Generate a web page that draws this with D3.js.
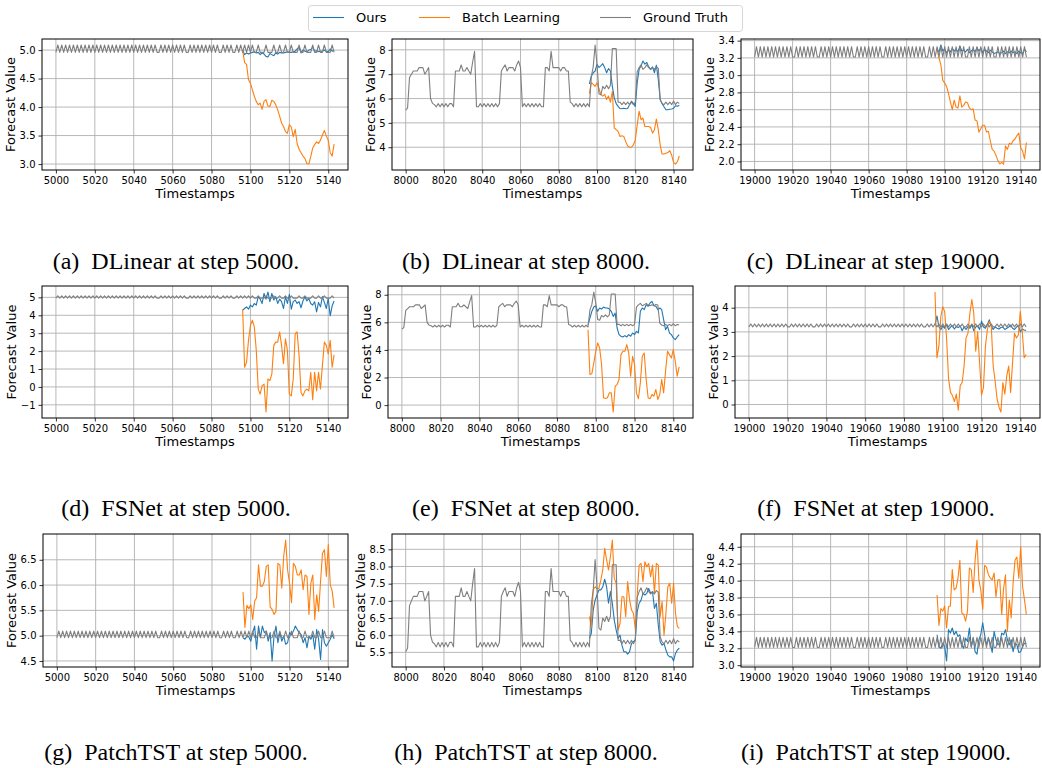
<!DOCTYPE html>
<html>
<head>
<meta charset="utf-8">
<script src="https://cdn.jsdelivr.net/npm/d3@7"></script>
<style>
  body { margin: 0; background: #fff; }
  svg text { font-family: "DejaVu Sans", sans-serif; }
  .caption { font-family: "Liberation Serif", "Times New Roman", serif !important; white-space: pre; }
</style>
</head>
<body>
<svg id="fig" width="1042" height="768"></svg>
<script>
// ground truth, 144 steps each
const truth5000 = [
  4.96,5.09,4.96,5.09,4.96,5.09,4.96,5.09,4.96,5.09,4.96,5.09,
  4.96,5.09,4.96,5.09,4.96,5.09,4.96,5.09,4.96,5.09,4.96,5.09,
  4.96,5.09,4.96,5.09,4.96,5.09,4.96,5.09,4.96,5.09,4.96,5.09,
  4.96,5.09,4.96,5.09,4.96,5.09,4.96,5.09,4.96,5.09,4.96,5.09,
  4.96,5.09,4.96,5.09,4.96,4.96,5.09,4.96,5.09,4.96,5.09,4.96,
  5.09,4.96,5.09,4.96,5.09,4.96,5.09,4.96,4.96,5.09,4.96,5.09,
  4.96,5.09,4.96,5.09,4.96,5.09,4.96,5.09,4.96,5.09,4.96,5.09,
  4.96,4.96,5.09,4.96,5.09,4.96,5.09,4.96,4.96,5.09,4.96,5.09,
  4.96,5.09,4.96,5.09,4.96,5.09,4.96,4.96,5.09,4.96,4.96,4.96,
  5.09,4.96,4.96,4.96,5.09,4.96,4.96,5.09,4.96,4.96,5.09,4.96,
  4.96,5.09,4.96,4.96,4.96,5.09,4.96,4.96,5.09,4.96,4.96,4.96,
  5.09,4.96,4.96,5.09,4.96,4.96,5.09,4.96,4.96,4.96,5.09,4.96
];
const truth8000 = [
  5.52,5.62,6.86,7.0,7.13,7.13,7.13,7.27,7.27,7.27,7.0,7.13,
  7.27,6.0,5.8,5.75,5.66,5.79,5.66,5.79,5.66,5.79,5.66,5.79,
  5.79,5.66,7.13,7.13,7.13,7.38,7.13,7.13,7.27,7.13,7.0,7.5,
  7.94,5.66,5.66,5.79,5.66,5.79,5.66,5.79,5.66,5.79,5.66,5.79,
  5.66,5.79,7.13,7.27,7.38,7.13,7.27,7.27,7.27,7.13,7.38,7.54,
  7.27,5.66,5.79,5.66,5.79,5.66,5.79,5.66,5.79,5.66,5.79,5.66,
  5.66,7.27,7.27,7.13,7.94,7.27,7.27,7.27,7.27,7.13,7.27,7.27,
  7.13,7.13,5.85,5.79,5.66,5.79,5.66,5.79,5.66,5.79,5.66,5.79,
  5.66,6.9,7.3,8.2,7.4,6.2,6.15,6.5,6.4,6.55,6.4,6.55,
  8.05,8.05,8.05,5.85,5.85,5.75,5.85,5.75,5.85,5.75,5.85,5.75,
  5.85,7.1,7.27,7.38,7.2,7.27,7.38,7.27,7.2,7.27,7.2,7.3,
  7.25,5.95,5.8,5.75,5.85,5.75,5.85,5.75,5.9,5.75,5.85,5.8
];
const truth19000 = [
  3.21,3.33,3.21,3.33,3.21,3.33,3.21,3.33,3.21,3.33,3.21,3.33,
  3.21,3.33,3.21,3.33,3.21,3.33,3.21,3.33,3.21,3.21,3.33,3.21,
  3.33,3.21,3.33,3.21,3.33,3.21,3.33,3.21,3.33,3.21,3.21,3.33,
  3.21,3.33,3.21,3.33,3.21,3.33,3.21,3.33,3.21,3.33,3.21,3.33,
  3.21,3.33,3.21,3.33,3.21,3.21,3.33,3.21,3.33,3.21,3.33,3.21,
  3.33,3.21,3.33,3.21,3.33,3.21,3.33,3.21,3.21,3.33,3.21,3.33,
  3.21,3.33,3.21,3.33,3.21,3.33,3.21,3.33,3.21,3.33,3.21,3.33,
  3.21,3.33,3.21,3.33,3.21,3.33,3.21,3.21,3.33,3.21,3.33,3.21,
  3.33,3.21,3.33,3.21,3.33,3.21,3.33,3.21,3.33,3.21,3.33,3.21,
  3.33,3.21,3.33,3.21,3.21,3.33,3.21,3.33,3.21,3.33,3.21,3.33,
  3.21,3.33,3.21,3.33,3.21,3.33,3.21,3.21,3.33,3.21,3.33,3.21,
  3.33,3.21,3.33,3.21,3.33,3.21,3.33,3.21,3.33,3.21,3.33,3.21
];

// forecasts, last 48 steps (start + 96 .. start + 143)
const oursA = [5.0,4.92,4.95,4.93,4.95,4.96,4.97,4.95,4.96,4.92, 4.95,4.93,4.89,4.88,4.94,4.92,4.9,4.95,4.93,4.96, 4.95,4.95,4.96,4.97,4.96,4.96,4.97,4.98,5.02,5.05, 4.95,5.0,4.98,4.97,5.0,5.01,5.05,4.98,4.99,4.97, 4.98,4.98,5.0,4.98,4.97,5.02,4.98,5.0];
const batchA = [5.0,4.78,4.75,4.48,4.42,4.3,4.19,4.1,4.04,4.07, 3.96,4.1,4.13,4.02,4.01,4.12,4.1,4.04,3.95,3.84, 3.72,3.66,3.57,3.54,3.69,3.65,3.48,3.61,3.36,3.26, 3.2,3.14,3.1,3.01,3.0,3.13,3.28,3.34,3.39,3.36, 3.42,3.51,3.59,3.49,3.42,3.2,3.14,3.35];
const oursB = [6.6,6.92,7.06,7.13,7.41,7.27,7.34,7.43,7.27,7.06, 7.23,7.13,6.5,6.03,5.79,5.68,5.59,5.58,5.6,5.58, 5.59,5.75,5.89,5.79,5.68,6.65,7.2,7.34,7.54,7.41, 7.48,7.3,7.2,7.3,7.06,7.37,6.79,5.96,5.79,5.66, 5.54,5.54,5.56,5.57,5.6,5.7,5.68,5.72];
const batchB = [6.2,6.65,6.58,6.5,6.65,6.4,6.17,6.1,6.17,5.96, 6.1,5.85,6.3,4.79,4.72,4.65,4.44,4.47,4.44,4.23, 4.05,4.0,4.0,4.1,4.3,4.92,5.48,5.13,5.2,4.85, 4.85,4.85,4.81,4.58,4.72,5.16,4.72,4.1,3.72,3.72, 3.75,3.78,3.86,3.68,3.37,3.31,3.41,3.64];
const oursC = [3.3,3.27,3.35,3.28,3.3,3.26,3.29,3.27,3.31,3.28, 3.3,3.27,3.34,3.28,3.29,3.27,3.3,3.26,3.28,3.3, 3.27,3.32,3.28,3.31,3.26,3.3,3.28,3.26,3.29,3.27, 3.25,3.26,3.27,3.25,3.26,3.28,3.25,3.27,3.26,3.28, 3.26,3.27,3.25,3.28,3.26,3.25,3.3,3.27];
const batchC = [3.31,3.2,3.12,2.94,2.91,2.87,2.79,2.69,2.6,2.71, 2.63,2.62,2.76,2.63,2.65,2.69,2.68,2.62,2.6,2.61, 2.48,2.47,2.34,2.38,2.42,2.42,2.34,2.35,2.24,2.14, 2.12,2.07,2.01,1.97,1.99,1.97,2.18,2.14,2.21,2.2, 2.24,2.26,2.3,2.33,2.16,2.12,2.03,2.22];
const oursD = [4.29,4.38,4.47,4.34,4.57,4.47,4.66,4.57,5.04,4.9, 4.66,5.22,4.9,5.3,4.76,5.22,4.85,5.04,4.66,4.9, 4.76,4.38,5.04,4.66,5.17,4.34,4.76,4.85,4.66,4.76, 4.42,4.8,5.04,4.8,4.94,4.66,4.57,4.76,4.19,4.72, 4.47,5.04,4.72,4.38,4.94,3.97,4.53,4.8];
const batchD = [4.34,1.1,1.38,2.6,3.44,3.72,3.35,2.04,-0.12,-0.4, 0.07,0.16,-1.4,0.44,0.35,0.72,2.32,2.5,2.5,3.07, 2.32,1.29,2.69,2.04,-0.4,-0.5,0.44,2.97,3.07,1.75, -0.31,-0.5,-0.22,-0.12,-0.22,0.82,-0.72,0.82,-0.22,0.82, -0.12,1.19,2.5,2.32,1.85,2.6,1.1,1.79];
const oursE = [5.83,6.31,6.8,7.11,7.2,6.8,7.04,6.96,7.11,7.04, 7.04,6.96,6.8,6.43,6.67,5.59,5.11,4.99,4.94,5.04, 4.94,5.11,4.99,5.23,5.11,5.35,5.23,6.8,7.04,6.92, 7.28,7.16,7.4,7.52,7.2,7.16,6.92,7.04,6.92,6.19, 5.47,5.71,5.23,5.11,4.87,4.75,4.94,5.11];
const batchE = [5.47,2.22,2.29,3.06,3.9,4.51,4.14,2.94,0.53,0.48, 0.53,0.89,0.89,-0.5,1.37,1.49,1.86,3.66,3.9,3.9, 4.39,3.78,2.1,3.54,2.94,0.89,0.46,1.61,3.54,3.78, 1.86,0.53,0.46,0.77,0.65,1.13,0.41,0.77,1.86,0.89, 2.46,3.9,3.66,3.42,4.02,3.18,2.1,2.77];
const oursF = [3.3,3.66,3.22,3.09,3.25,3.15,3.3,3.1,3.2,3.25, 3.12,3.22,3.18,3.25,3.05,3.2,3.1,3.22,3.15,3.3, 3.05,3.2,3.25,3.1,3.45,3.2,3.15,3.3,3.5,3.25, 3.1,3.2,3.15,3.12,3.18,3.2,3.1,3.15,3.2,3.28, 3.15,3.1,3.2,3.25,3.0,3.12,3.08,3.06];
const batchF = [4.65,1.93,2.41,3.63,4.04,3.84,2.68,1.05,0.5,0.37, 0.12,0.43,-0.24,0.78,0.91,1.59,2.75,2.95,3.77,4.34, 3.77,2.2,3.02,1.73,0.39,0.71,2.41,3.09,3.43,3.29, 1.59,0.98,0.23,-0.11,-0.31,0.91,0.43,1.18,1.59,0.5, 1.73,2.95,2.75,2.88,3.84,3.02,1.93,2.07];
const oursG = [4.96,4.93,4.99,4.98,4.89,5.06,5.19,4.73,5.19,4.96, 5.19,5.06,5.09,4.89,5.06,4.5,4.99,5.19,4.86,5.06, 4.89,4.99,4.83,4.86,5.06,5.02,5.09,5.19,5.12,5.06, 5.02,4.86,4.96,4.76,4.99,4.93,5.02,4.73,5.12,4.93, 4.53,5.12,4.86,4.79,4.86,4.93,5.02,4.94];
const batchG = [5.86,5.16,5.6,5.53,5.61,5.32,5.68,5.75,6.4,5.98, 5.98,6.07,6.37,6.4,5.57,5.52,5.42,5.48,6.43,6.4, 5.94,6.57,6.89,6.3,6.04,5.65,6.43,6.37,6.2,6.2, 6.3,5.91,6.2,6.17,5.42,6.04,6.2,5.32,5.81,5.48, 6.07,6.63,6.7,6.17,6.8,6.01,5.88,5.55];
const oursH = [5.91,6.05,6.73,7.02,7.17,7.32,7.32,7.41,7.63,7.41, 6.93,7.27,6.93,6.44,6.15,5.91,6.0,5.71,5.52,5.52, 5.45,5.52,5.76,5.81,5.86,6.68,6.93,7.02,7.22,7.17, 7.22,7.36,7.22,7.27,6.78,6.93,6.3,5.81,5.71,5.76, 5.57,5.42,5.37,5.37,5.25,5.47,5.57,5.62];
const batchH = [6.54,6.25,7.32,7.41,7.36,7.36,7.61,7.9,8.53,8.19, 7.9,8.29,8.77,7.66,7.51,6.15,6.34,7.12,7.12,6.54, 7.56,7.03,6.74,6.64,6.2,7.17,8.04,8.09,7.56,8.14, 7.99,8.09,7.7,8.04,7.22,8.09,8.04,6.54,6.98,6.0, 6.64,7.41,7.51,6.93,7.51,6.64,6.25,6.2];
const oursI = [3.36,3.22,3.2,3.26,3.22,3.05,3.42,3.38,3.44,3.36, 3.4,3.34,3.36,3.24,3.2,3.32,3.28,3.44,3.22,3.32, 3.16,3.13,3.3,3.36,3.5,3.36,3.24,3.32,3.26,3.15, 3.4,3.3,3.24,3.26,3.38,3.36,3.42,3.3,3.24,3.3, 3.16,3.26,3.24,3.15,3.16,3.22,3.26,3.26];
const batchI = [3.83,3.47,3.67,3.64,3.7,3.44,3.69,3.7,4.13,3.89, 3.91,4.03,4.24,3.62,3.6,3.52,3.64,4.15,4.13,3.86, 4.24,4.48,4.01,3.89,3.66,4.18,4.16,4.07,4.03,4.01, 4.09,3.81,4.01,4.01,3.6,3.91,4.07,3.4,3.77,3.56, 3.97,4.24,4.28,4.03,4.4,3.93,3.77,3.6];

// tick labels
const xTickOffsets = [0, 20, 40, 60, 80, 100, 120, 140];
const yTicksA = [3.0, 3.5, 4.0, 4.5, 5.0];
const yTicksB = [4, 5, 6, 7, 8];
const yTicksC = [2.0, 2.2, 2.4, 2.6, 2.8, 3.0, 3.2, 3.4];
const yTicksD = [-1, 0, 1, 2, 3, 4, 5];
const yTicksE = [0, 2, 4, 6, 8];
const yTicksF = [0, 1, 2, 3, 4];
const yTicksG = [4.5, 5.0, 5.5, 6.0, 6.5];
const yTicksH = [5.5, 6.0, 6.5, 7.0, 7.5, 8.0, 8.5];
const yTicksI = [3.0, 3.2, 3.4, 3.6, 3.8, 4.0, 4.2, 4.4];

const models = ['DLinear', 'FSNet', 'PatchTST'];
const steps = [5000, 8000, 19000];
const truths = [truth5000, truth8000, truth19000];
const seriesNames = ['Ours', 'Batch Learning', 'Ground Truth'];
const colors = ['#1f77b4', '#ff7f0e', '#7f7f7f'];

const panels = [
  { ours: oursA, batch: batchA, yTicks: yTicksA, fmt: '.1f' },
  { ours: oursB, batch: batchB, yTicks: yTicksB, fmt: 'd' },
  { ours: oursC, batch: batchC, yTicks: yTicksC, fmt: '.1f' },
  { ours: oursD, batch: batchD, yTicks: yTicksD, fmt: 'd' },
  { ours: oursE, batch: batchE, yTicks: yTicksE, fmt: 'd' },
  { ours: oursF, batch: batchF, yTicks: yTicksF, fmt: 'd' },
  { ours: oursG, batch: batchG, yTicks: yTicksG, fmt: '.1f' },
  { ours: oursH, batch: batchH, yTicks: yTicksH, fmt: '.1f' },
  { ours: oursI, batch: batchI, yTicks: yTicksI, fmt: '.1f' }
];

// axes boxes [left, right, top, bottom]
const boxes = [
  [42, 348, 39, 170], [392, 693, 39, 170], [741, 1040, 39, 170],
  [42, 348, 286, 418], [388, 693, 286, 418], [735, 1040, 286, 418],
  [43, 348, 534, 667], [392, 693, 534, 667], [741, 1040, 534, 667]
];
const captionY = [269, 516, 760];
const captionX = [176, 526, 876];

const svg = d3.select('#fig');

panels.forEach((p, k) => {
  const row = Math.floor(k / 3), col = k % 3;
  const start = steps[col];
  const truth = truths[col];
  const [x0, x1, y0, y1] = boxes[k];
  const n = truth.length;

  // matplotlib style 5% margins
  const x = d3.scaleLinear()
    .domain([start - 0.05 * (n - 1), start + 1.05 * (n - 1)])
    .range([x0, x1]);
  const [lo, hi] = d3.extent(truth.concat(p.ours, p.batch));
  const pad = (hi - lo) * 0.05;
  const y = d3.scaleLinear().domain([lo - pad, hi + pad]).range([y1, y0]);

  const g = svg.append('g');
  const xTicks = xTickOffsets.map((d) => start + d);

  // grid
  g.append('g').selectAll('line').data(xTicks).join('line')
    .attr('x1', (d) => x(d)).attr('x2', (d) => x(d))
    .attr('y1', y0).attr('y2', y1)
    .attr('stroke', '#b0b0b0').attr('stroke-width', 0.9);
  g.append('g').selectAll('line').data(p.yTicks).join('line')
    .attr('y1', (d) => y(d)).attr('y2', (d) => y(d))
    .attr('x1', x0).attr('x2', x1)
    .attr('stroke', '#b0b0b0').attr('stroke-width', 0.9);

  // lines
  const line = d3.line().x((d) => x(d[0])).y((d) => y(d[1]));
  const oursPts = p.ours.map((v, i) => [start + 96 + i, v]);
  const batchPts = p.batch.map((v, i) => [start + 96 + i, v]);
  const truthPts = truth.map((v, i) => [start + i, v]);
  [oursPts, batchPts, truthPts].forEach((pts, s) => {
    g.append('path').datum(pts)
      .attr('d', line)
      .attr('fill', 'none')
      .attr('stroke', colors[s])
      .attr('stroke-width', 1.1)
      .attr('stroke-linejoin', 'round');
  });

  // frame
  g.append('rect')
    .attr('x', x0).attr('y', y0)
    .attr('width', x1 - x0).attr('height', y1 - y0)
    .attr('fill', 'none').attr('stroke', '#000').attr('stroke-width', 1);

  // axes
  const xAxis = g.append('g')
    .attr('transform', `translate(0,${y1})`)
    .call(d3.axisBottom(x).tickValues(xTicks).tickSize(3.5).tickPadding(3).tickFormat(d3.format('d')));
  const yAxis = g.append('g')
    .attr('transform', `translate(${x0},0)`)
    .call(d3.axisLeft(y).tickValues(p.yTicks).tickSize(3.5).tickPadding(3).tickFormat(d3.format(p.fmt)));
  [xAxis, yAxis].forEach((a) => {
    a.select('.domain').remove();
    a.selectAll('text').attr('font-size', 10).attr('fill', '#000')
      .attr('font-family', '"DejaVu Sans", sans-serif');
    a.selectAll('line').attr('stroke', '#000').attr('stroke-width', 0.8);
  });

  // axis labels
  g.append('text')
    .attr('x', (x0 + x1) / 2).attr('y', y1 + 28)
    .attr('text-anchor', 'middle').attr('font-size', 13)
    .text('Timestamps');
  const bb = yAxis.node().getBBox();
  g.append('text')
    .attr('transform', `translate(${x0 + bb.x - 9},${(y0 + y1) / 2}) rotate(-90)`)
    .attr('dy', '0.35em')
    .attr('text-anchor', 'middle').attr('font-size', 13)
    .text('Forecast Value');

  // caption
  svg.append('text')
    .attr('class', 'caption')
    .attr('x', captionX[col]).attr('y', captionY[row])
    .attr('text-anchor', 'middle').attr('font-size', 24)
    .text(`(${'abcdefghi'[k]})  ${models[row]} at step ${start}.`);
});

// legend
const legend = svg.append('g');
legend.append('rect')
  .attr('x', 308.5).attr('y', 5.5).attr('width', 434).attr('height', 26).attr('rx', 3)
  .attr('fill', '#fff').attr('stroke', '#d6d6d6').attr('stroke-width', 1);
const legX = [313, 419, 600];
seriesNames.forEach((name, i) => {
  legend.append('line')
    .attr('x1', legX[i]).attr('x2', legX[i] + 31)
    .attr('y1', 17.5).attr('y2', 17.5)
    .attr('stroke', colors[i]).attr('stroke-width', 1.1);
  legend.append('text')
    .attr('x', legX[i] + 43).attr('y', 22)
    .attr('font-size', 13).attr('fill', '#000')
    .text(name);
});
</script>
</body>
</html>
